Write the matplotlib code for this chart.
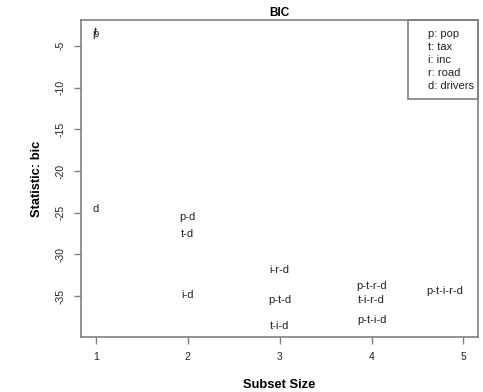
"""BIC by subset size (leaps-style plot)."""

import matplotlib
matplotlib.use("Agg")
import matplotlib.pyplot as plt
from matplotlib.patches import Rectangle

plt.rcParams["font.family"] = ["Liberation Sans", "DejaVu Sans"]
plt.rcParams["axes.unicode_minus"] = False

# subset labels and their BIC values
sizes = [1, 1, 1, 2, 2, 2, 3, 3, 3, 4, 4, 4, 5]
labels = ["t", "p", "d", "p-d", "t-d", "i-d", "i-r-d", "p-t-d", "t-i-d",
          "p-t-r-d", "t-i-r-d", "p-t-i-d", "p-t-i-r-d"]
bic = [-3.3, -3.6, -24.6, -25.5, -27.6, -34.8, -31.8, -35.4, -38.6,
       -33.8, -35.4, -37.8, -34.4]

legend_lines = ["p: pop", "t: tax", "i: inc", "r: road", "d: drivers"]
y_ticks = [-5, -10, -15, -20, -25, -30, -35]
x_ticks = [1, 2, 3, 4, 5]

GRAY = "#808080"
INK = "#222222"

fig = plt.figure(figsize=(4.83, 3.92), dpi=100)
ax = fig.add_axes([0.168, 0.140, 0.822, 0.809])

max_size = max(sizes)
for s, lab, v in zip(sizes, labels, bic):
    # the full model label is pulled inside the box, as R does
    ha = "right" if s == max_size else "center"
    ax.text(s, v, lab, ha=ha, va="center", fontsize=8, color=INK)

ax.set_xlim(0.84, 5.16)
ax.set_ylim(-39.9, -1.9)
ax.set_xticks(x_ticks)
ax.set_yticks(y_ticks)
ax.tick_params(axis="both", labelsize=7.5, color=GRAY, length=5, width=1,
               labelcolor=INK)
ax.tick_params(axis="x", pad=6)
ax.tick_params(axis="y", pad=6)
for lbl in ax.get_yticklabels():
    lbl.set_rotation(90)
    lbl.set_va("center")
for sp in ax.spines.values():
    sp.set_color(GRAY)
    sp.set_linewidth(1.2)

ax.set_title("BIC", fontsize=8.5, fontweight="bold", pad=3)
ax.set_xlabel("Subset Size", fontsize=9.3, fontweight="bold", labelpad=12)
ax.set_ylabel("Statistic: bic", fontsize=9.3, fontweight="bold", labelpad=9)

# legend box in the top-right corner
ax.add_patch(Rectangle((0.824, 0.751), 0.176, 0.249, transform=ax.transAxes,
                       fill=False, edgecolor=GRAY, linewidth=1.2, clip_on=False))
for i, line in enumerate(legend_lines):
    ax.text(0.874, 0.956 - i * 0.041, line, transform=ax.transAxes,
            ha="left", va="center", fontsize=8, color=INK)

fig.savefig("out.png", dpi=100)
